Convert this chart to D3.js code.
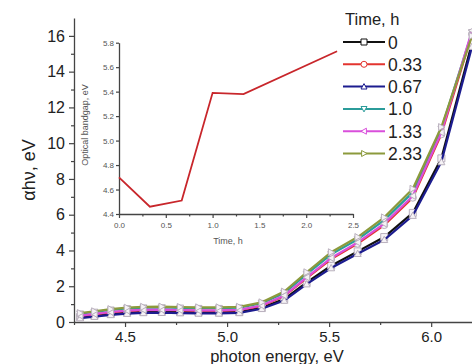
<!DOCTYPE html>
<html>
<head>
<meta charset="utf-8">
<script src="https://cdn.jsdelivr.net/npm/d3@7"></script>
<style>
  body { margin: 0; background: #fff; }
  svg { display: block; }
  svg text { font-family: 'Liberation Sans', Arial, sans-serif; }
</style>
</head>
<body>
<svg id="chart" width="472" height="364"></svg>
<script>
// photon energies (eV)
const energies = [4.28, 4.35, 4.43, 4.51, 4.59, 4.68, 4.77, 4.86, 4.96, 5.06, 5.17, 5.28, 5.39, 5.51, 5.64, 5.77, 5.91, 6.05, 6.20];

const seriesNames = ['0', '0.33', '0.67', '1.0', '1.33', '2.33'];
const seriesColors = ['#111111', '#e3342f', '#1c1c8f', '#2b9c9a', '#d94fdb', '#8c9a3c'];
const seriesSymbols = ['square', 'circle', 'up', 'down', 'left', 'right'];

const time0 = [0.28, 0.36, 0.46, 0.53, 0.57, 0.58, 0.56, 0.54, 0.54, 0.57, 0.80, 1.28, 2.22, 3.15, 3.95, 4.75, 6.10, 9.15, 15.6];
const time033 = [0.34, 0.43, 0.54, 0.62, 0.66, 0.67, 0.65, 0.63, 0.63, 0.66, 0.90, 1.45, 2.45, 3.52, 4.38, 5.42, 6.95, 10.5, 16.1];
const time067 = [0.22, 0.30, 0.40, 0.47, 0.51, 0.52, 0.50, 0.48, 0.48, 0.51, 0.74, 1.20, 2.12, 3.02, 3.82, 4.60, 5.95, 8.95, 15.4];
const time10 = [0.46, 0.56, 0.68, 0.76, 0.80, 0.81, 0.79, 0.77, 0.77, 0.80, 1.05, 1.62, 2.68, 3.78, 4.62, 5.70, 7.25, 10.8, 16.2];
const time133 = [0.36, 0.45, 0.56, 0.64, 0.68, 0.69, 0.67, 0.65, 0.65, 0.68, 0.92, 1.48, 2.50, 3.58, 4.45, 5.50, 7.05, 10.6, 16.3];
const time233 = [0.50, 0.60, 0.72, 0.80, 0.85, 0.86, 0.84, 0.82, 0.82, 0.85, 1.10, 1.70, 2.78, 3.90, 4.75, 5.85, 7.45, 10.9, 16.0];
const seriesValues = [time0, time033, time067, time10, time133, time233];

const xTicks = [4.5, 5.0, 5.5, 6.0];
const xMinor = [4.25, 4.75, 5.25, 5.75];
const yTicks = [0, 2, 4, 6, 8, 10, 12, 14, 16];
const yMinor = [1, 3, 5, 7, 9, 11, 13, 15];

// inset: optical bandgap vs time
const insetTime = [0, 0.33, 0.67, 1.0, 1.33, 2.33];
const insetGap = [4.70, 4.46, 4.51, 5.39, 5.38, 5.73];
const insetXTicks = [0, 0.5, 1.0, 1.5, 2.0, 2.5];
const insetXMinor = [0.25, 0.75, 1.25, 1.75, 2.25];
const insetYTicks = [4.4, 4.6, 4.8, 5.0, 5.2, 5.4, 5.6, 5.8];

const svg = d3.select('#chart');

const x = d3.scaleLinear().domain([4.25, 6.2]).range([74, 472]);
const y = d3.scaleLinear().domain([0, 17]).range([322, 18]);

function styleAxis(g, color) {
  g.attr('font-family', null);
  g.selectAll('path.domain').attr('stroke', color).attr('stroke-width', 1.3);
  g.selectAll('.tick line').attr('stroke', color).attr('stroke-width', 1.2);
  g.selectAll('.tick text').attr('fill', '#222');
}

// X axis
const gx = svg.append('g').attr('transform', 'translate(0,' + y(0) + ')');
gx.call(d3.axisBottom(x).tickValues(xTicks).tickFormat(d3.format('.1f')).tickSize(5).tickSizeOuter(0))
  .call(g => g.selectAll('.tick text').attr('font-size', 15).attr('y', 8).attr('dy', '0.8em'));
gx.append('g').call(d3.axisBottom(x).tickValues(xMinor).tickFormat('').tickSize(3))
  .call(g => g.select('.domain').remove());
styleAxis(gx, '#444');

// Y axis
const gy = svg.append('g').attr('transform', 'translate(' + x(4.25) + ',0)');
gy.call(d3.axisLeft(y).tickValues(yTicks).tickSize(5).tickSizeOuter(0))
  .call(g => g.selectAll('.tick text').attr('font-size', 16).attr('x', -9));
gy.append('g').call(d3.axisLeft(y).tickValues(yMinor).tickFormat('').tickSize(3))
  .call(g => g.select('.domain').remove());
styleAxis(gy, '#444');

svg.append('text')
  .attr('x', 277).attr('y', 362)
  .attr('text-anchor', 'middle')
  .attr('font-size', 16.5).attr('fill', '#222')
  .text('photon energy, eV');

svg.append('text')
  .attr('transform', 'translate(35,170) rotate(-90)')
  .attr('text-anchor', 'middle')
  .attr('font-size', 18).attr('fill', '#222')
  .text('αhν, eV');

// markers
function markerPath(sym, s) {
  const h = s / 2;
  switch (sym) {
    case 'square': return `M${-h},${-h}H${h}V${h}H${-h}Z`;
    case 'circle': return d3.symbol(d3.symbolCircle, s * s * 0.8)();
    case 'up': return `M0,${-h}L${h},${h * 0.8}L${-h},${h * 0.8}Z`;
    case 'down': return `M0,${h}L${h},${-h * 0.8}L${-h},${-h * 0.8}Z`;
    case 'left': return `M${-h},0L${h * 0.8},${-h}L${h * 0.8},${h}Z`;
    case 'right': return `M${h},0L${-h * 0.8},${-h}L${-h * 0.8},${h}Z`;
  }
}

const line = d3.line().x(d => x(d[0])).y(d => y(d[1]));

seriesValues.forEach((vals, i) => {
  const pts = energies.map((e, j) => [e, vals[j]]);
  svg.append('path')
    .datum(pts)
    .attr('d', line)
    .attr('fill', 'none')
    .attr('stroke', seriesColors[i])
    .attr('stroke-width', 2.2);
  svg.selectAll('.m' + i)
    .data(pts)
    .enter()
    .append('path')
    .attr('class', 'm' + i)
    .attr('transform', d => 'translate(' + x(d[0]) + ',' + y(d[1]) + ')')
    .attr('d', markerPath(seriesSymbols[i], 7))
    .attr('fill', '#f6f3f6')
    .attr('stroke', '#b9b0bd')
    .attr('stroke-width', 1);
});

// legend
svg.append('text')
  .attr('x', 345).attr('y', 25)
  .attr('font-size', 16.5).attr('fill', '#222')
  .text('Time, h');

seriesNames.forEach((name, i) => {
  const ly = 42 + i * 22.3;
  const g = svg.append('g');
  g.append('line')
    .attr('x1', 343).attr('x2', 385)
    .attr('y1', ly).attr('y2', ly)
    .attr('stroke', seriesColors[i]).attr('stroke-width', 2);
  g.append('path')
    .attr('transform', 'translate(364,' + ly + ')')
    .attr('d', markerPath(seriesSymbols[i], 6))
    .attr('fill', '#fff')
    .attr('stroke', seriesColors[i])
    .attr('stroke-width', 1);
  g.append('text')
    .attr('x', 388).attr('y', ly + 6.5)
    .attr('font-size', 17.5).attr('fill', '#222')
    .text(name);
});

// inset
const ix = d3.scaleLinear().domain([0, 2.5]).range([119, 353]);
const iy = d3.scaleLinear().domain([4.4, 5.8]).range([214, 42.7]);

const igx = svg.append('g').attr('transform', 'translate(0,' + iy(4.4) + ')');
igx.call(d3.axisBottom(ix).tickValues(insetXTicks).tickFormat(d3.format('.1f')).tickSize(4).tickSizeOuter(0))
  .call(g => g.selectAll('.tick text').attr('font-size', 8).attr('dy', '0.9em'));
igx.append('g').call(d3.axisBottom(ix).tickValues(insetXMinor).tickFormat('').tickSize(2.5))
  .call(g => g.select('.domain').remove());
styleAxis(igx, '#444');
igx.selectAll('.tick text').attr('fill', '#555');

const igy = svg.append('g').attr('transform', 'translate(' + ix(0) + ',0)');
igy.call(d3.axisLeft(iy).tickValues(insetYTicks).tickFormat(d3.format('.1f')).tickSize(3).tickSizeOuter(0))
  .call(g => g.selectAll('.tick text').attr('font-size', 8).attr('x', -5));
styleAxis(igy, '#444');
igy.selectAll('.tick text').attr('fill', '#555');

svg.append('text')
  .attr('x', 228).attr('y', 244)
  .attr('text-anchor', 'middle')
  .attr('font-size', 9).attr('fill', '#555')
  .text('Time, h');

svg.append('text')
  .attr('transform', 'translate(88,125) rotate(-90)')
  .attr('text-anchor', 'middle')
  .attr('font-size', 9).attr('fill', '#555')
  .text('Optical bandgap, eV');

svg.append('path')
  .datum(insetTime.map((t, i) => [t, insetGap[i]]))
  .attr('d', d3.line().x(d => ix(d[0])).y(d => iy(d[1])))
  .attr('fill', 'none')
  .attr('stroke', '#c8262b')
  .attr('stroke-width', 1.8);
</script>
</body>
</html>
